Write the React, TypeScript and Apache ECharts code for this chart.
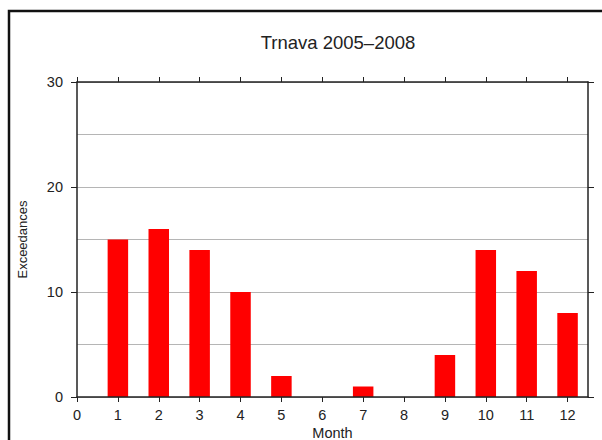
import React, { useEffect, useRef } from "react";
import * as echarts from "echarts";

const months = [1, 2, 3, 4, 5, 6, 7, 8, 9, 10, 11, 12];
const exceedances = [15, 16, 14, 10, 2, 0, 1, 0, 4, 14, 12, 8];
const xTicks = [0, 1, 2, 3, 4, 5, 6, 7, 8, 9, 10, 11, 12];
const yTicks = [0, 10, 20, 30];
const titleText = "Trnava 2005\u20132008";

const FONT = "Liberation Sans, Arial, Helvetica, sans-serif";

export default function App() {
  const ref = useRef<HTMLDivElement>(null);
  useEffect(() => {
    const chart = echarts.init(ref.current!, null, { renderer: "svg" });
    const axisLine = { show: true, onZero: false, lineStyle: { color: "#222", width: 1.5 } };
    const baseX = {
      type: "value" as const,
      min: 0,
      max: 12.5,
      interval: 1,
      axisLine,
      splitLine: { show: false },
      z: 3,
    };
    const baseY = {
      type: "value" as const,
      min: 0,
      max: 30,
      interval: 10,
      axisLine,
      splitLine: { show: false },
      z: 3,
    };
    chart.setOption({
      animation: false,
      backgroundColor: "#fff",
      title: {
        text: titleText,
        left: 333,
        textAlign: "center",
        top: 28,
        textStyle: { fontFamily: FONT, fontSize: 18.5, fontWeight: "normal", color: "#222" },
      },
      grid: { left: 77, right: 14, top: 82, bottom: 43, outerBoundsMode: "none", containLabel: false },
      xAxis: [
        {
          ...baseX,
          position: "bottom",
          name: "Month",
          nameLocation: "middle",
          nameGap: 28,
          nameMoveOverlap: false,
          nameTextStyle: { fontFamily: FONT, fontSize: 14.5, color: "#222", lineHeight: 15 },
          axisTick: { show: true, inside: false, length: 5, customValues: xTicks, lineStyle: { color: "#222" } },
          axisLabel: {
            show: true,
            customValues: xTicks,
            margin: 10,
            fontFamily: FONT,
            fontSize: 14.5,
            color: "#222",
          },
        },
        {
          ...baseX,
          position: "top",
          axisTick: { show: true, inside: false, length: 5, customValues: xTicks, lineStyle: { color: "#222" } },
          axisLabel: { show: false },
        },
      ],
      yAxis: [
        {
          ...baseY,
          position: "left",
          name: "Exceedances",
          nameLocation: "middle",
          nameGap: 48,
          nameMoveOverlap: false,
          nameTextStyle: { fontFamily: FONT, fontSize: 13, color: "#222" },
          axisTick: { show: true, inside: false, length: 6, customValues: yTicks, lineStyle: { color: "#222" } },
          axisLabel: {
            show: true,
            customValues: yTicks,
            margin: 14,
            fontFamily: FONT,
            fontSize: 14.5,
            color: "#222",
          },
        },
        {
          ...baseY,
          position: "right",
          axisTick: { show: true, inside: false, length: 6, customValues: yTicks, lineStyle: { color: "#222" } },
          axisLabel: { show: false },
        },
        {
          type: "value",
          min: 0,
          max: 30,
          interval: 5,
          position: "left",
          z: 0,
          axisLine: { show: false },
          axisTick: { show: false },
          axisLabel: { show: false },
          splitLine: { show: true, lineStyle: { color: "#b5b5b5", width: 1 } },
        },
      ],
      series: [
        {
          type: "bar",
          xAxisIndex: 0,
          yAxisIndex: 0,
          barWidth: 20.5,
          data: months.map((m, i) => [m, exceedances[i]]),
          itemStyle: { color: "#ff0000" },
          z: 2,
        },
      ],
      graphic: [
        {
          type: "rect",
          shape: { x: 9, y: 11, width: 700, height: 700 },
          style: { fill: "none", stroke: "#111", lineWidth: 2.5 },
          silent: true,
        },
      ],
    });
    return () => chart.dispose();
  }, []);
  return (
    <div
      ref={ref}
      style={{ position: "fixed", left: 0, top: 0, width: 602, height: 440 }}
    />
  );
}
